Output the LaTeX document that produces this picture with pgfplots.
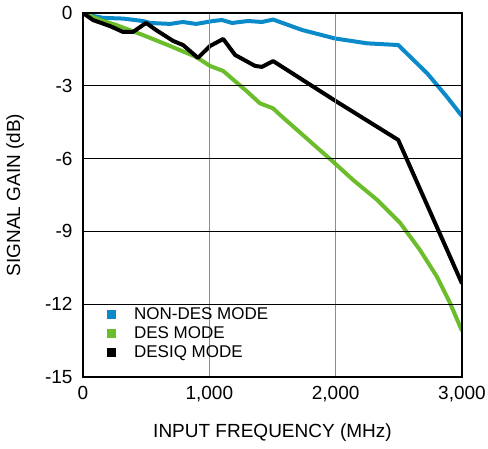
\documentclass[border=0pt]{standalone}
\usepackage{fontspec}
\setmainfont{Liberation Sans}
\usepackage{pgfplots}
\pgfplotsset{compat=1.18}

\definecolor{nondes}{RGB}{10,138,200}
\definecolor{des}{RGB}{108,189,43}

\begin{document}
\begin{tikzpicture}
\begin{axis}[
    name=ax,
    scale only axis,
    width=379pt, height=364pt,
    xmin=0, xmax=3000,
    ymin=-15, ymax=0,
    xtick={0,1000,2000,3000},
    xticklabels={0,{1,000},{2,000},{3,000}},
    ytick={-15,-12,-9,-6,-3,0},
    yticklabels={-15,-12,-9,-6,-3,0},
    major tick length=0pt,
    tick align=outside,
    font=\fontsize{19}{22}\selectfont,
    xticklabel style={yshift=-6pt},
    yticklabel style={xshift=-7pt},
    xmajorgrids, ymajorgrids,
    x grid style={gray!90, line width=1.3pt},
    y grid style={black, line width=0.8pt},
    axis line style={line width=2.5pt},
    axis on top,
    xlabel={INPUT FREQUENCY (MHz)},
    ylabel={SIGNAL GAIN (dB)},
    xlabel style={at={(axis description cs:0.5,-0.154)}, anchor=center},
    ylabel style={at={(axis description cs:-0.179,0.5)}, anchor=center},
    legend cell align=left,
    legend image code/.code={
        \path[fill, draw=none] (0pt,-4.5pt) rectangle (9pt,4.5pt);
        \path (24pt,0pt);
    },
    legend style={
        at={(axis description cs:0.063,0.195)}, anchor=north west,
        draw=none, fill=none, inner sep=0pt,
        font=\fontsize{17}{19}\selectfont,
        nodes={inner sep=1pt, text height=12pt, text depth=3pt},
        row sep=2pt,
    },
    every axis plot/.append style={line width=4pt, line join=round, no markers},
]
\addplot[color=nondes] coordinates {
    (0,0) (80,-0.12) (158,-0.2) (317,-0.23) (475,-0.33) (530,-0.41)
    (690,-0.45) (790,-0.37) (895,-0.45) (1030,-0.33) (1100,-0.29)
    (1180,-0.41) (1306,-0.33) (1417,-0.37) (1505,-0.27) (1734,-0.7)
    (1995,-1.05) (2250,-1.25) (2495,-1.32) (2725,-2.49) (2880,-3.45)
    (3000,-4.25)
};
\addlegendentry{NON-DES MODE}
\addplot[color=des] coordinates {
    (0,0) (158,-0.33) (261,-0.49) (475,-0.91) (690,-1.36) (895,-1.81)
    (1005,-2.18) (1110,-2.39) (1300,-3.24) (1400,-3.72) (1505,-3.93)
    (1560,-4.2) (1980,-6.13) (2138,-6.88) (2328,-7.7) (2510,-8.65)
    (2668,-9.77) (2803,-10.88) (2905,-11.95) (3000,-13.1)
};
\addlegendentry{DES MODE}
\addplot[color=black] coordinates {
    (0,0) (79,-0.29) (214,-0.54) (317,-0.78) (396,-0.78) (499,-0.41)
    (578,-0.7) (713,-1.15) (792,-1.32) (910,-1.85) (1005,-1.36)
    (1110,-1.07) (1204,-1.73) (1362,-2.18) (1417,-2.22) (1505,-1.98)
    (2010,-3.66) (2495,-5.23) (3000,-11.15)
};
\addlegendentry{DESIQ MODE}
\end{axis}
\pgfresetboundingbox
\path[use as bounding box] (ax.south west) ++(-83pt,-71pt) rectangle ([shift={(26pt,13pt)}]ax.north east);
\end{tikzpicture}
\end{document}
